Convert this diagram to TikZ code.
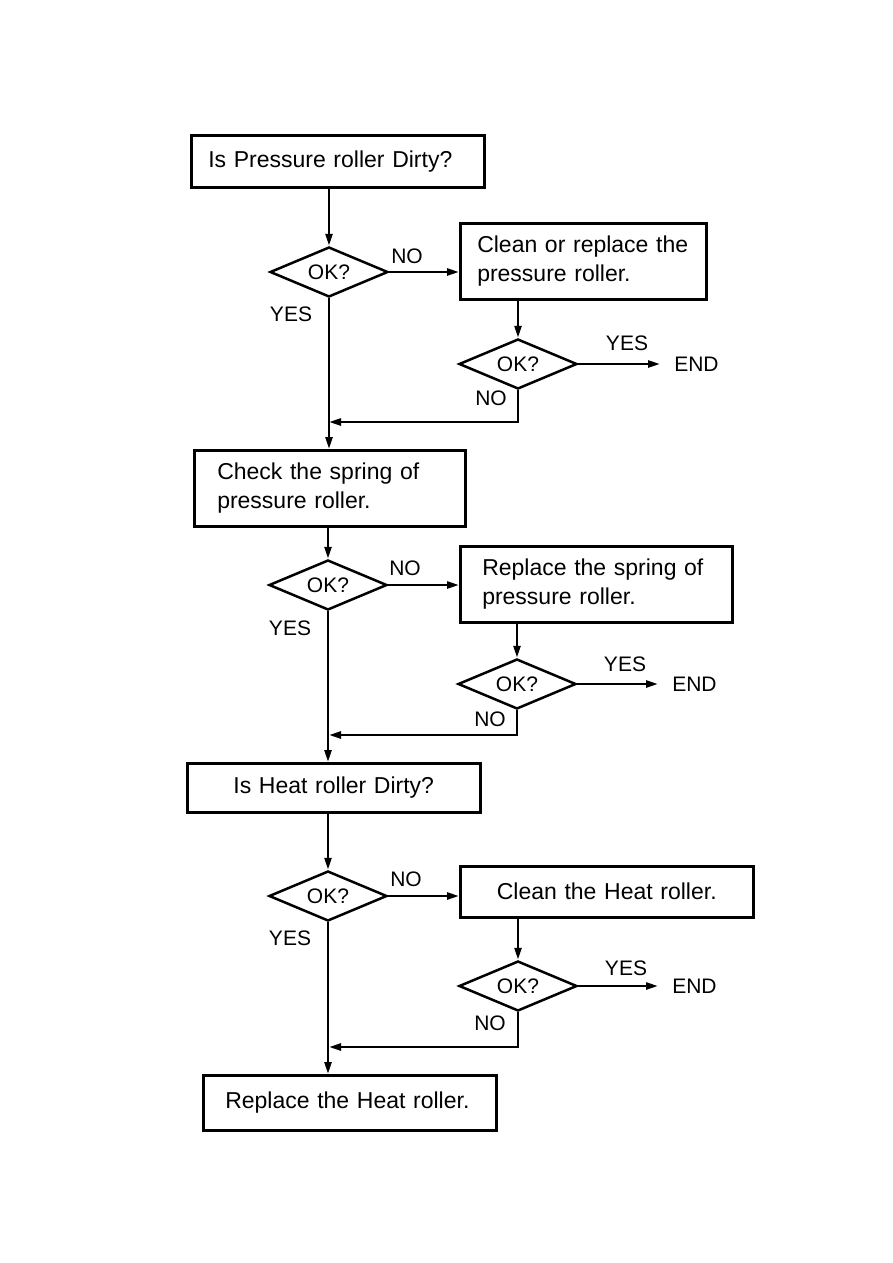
\documentclass[tikz,border=0pt]{standalone}
\usepackage{fontspec}
\setmainfont{Liberation Sans}
\usetikzlibrary{shapes.geometric,arrows.meta,positioning}

\begin{document}
\begin{tikzpicture}[x=1pt,y=-1pt,line width=2.5pt,
  box/.style={draw,rectangle,anchor=north west,inner xsep=22pt,inner ysep=4pt,align=left,font=\fontsize{23}{29}\selectfont},
  ok/.style={draw,diamond,minimum width=118pt,minimum height=50pt,inner sep=0pt,aspect=2.4,font=\fontsize{21}{24}\selectfont},
  lbl/.style={inner sep=0pt,font=\fontsize{21}{24}\selectfont},
  endn/.style={lbl,anchor=west},
  arr/.style={-{Triangle[length=12pt,width=7pt]}}]
\useasboundingbox (0,0) rectangle (893,1263);
% pressure roller
\node[box,inner xsep=17pt,text width=259pt,minimum height=52pt] (b1) at (190,134) {Is Pressure roller Dirty?};
\node[ok] (d1) at (329,272) {OK?};
\node[box,inner xsep=17pt,text width=212pt,minimum height=76pt] (b2) at (459,222) {Clean or replace the\\pressure roller.};
\node[ok] (d2) at (518,364) {OK?};
\node[endn] (e1) at (673,364) {END};
\node[lbl] (no1) at (407,256) {NO};
\node[lbl] (yes1) at (291,314) {YES};
\node[lbl] (yes2) at (627,343) {YES};
\node[lbl] (no2) at (491,398) {NO};
\coordinate (j1) at (329,422);
% spring
\node[box,inner xsep=23pt,text width=225pt,minimum height=76pt] (b3) at (193,449) {Check the spring of\\pressure roller.};
\node[ok] (d3) at (328,585) {OK?};
\node[box,inner xsep=22pt,text width=228pt,minimum height=76pt] (b4) at (459,545) {Replace the spring of\\pressure roller.};
\node[ok] (d4) at (517,684) {OK?};
\node[endn] (e2) at (671,684) {END};
\node[lbl] (no3) at (405,568) {NO};
\node[lbl] (yes3) at (290,628) {YES};
\node[lbl] (yes4) at (625,664) {YES};
\node[lbl] (no4) at (490,719) {NO};
\coordinate (j2) at (329,735);
% heat roller
\node[box,align=center,text width=249pt,minimum height=49pt] (b5) at (186,762) {Is Heat roller Dirty?};
\node[ok] (d5) at (328,896) {OK?};
\node[box,align=center,text width=249pt,minimum height=51pt] (b6) at (459,865) {Clean the Heat roller.};
\node[ok] (d6) at (518,986) {OK?};
\node[endn] (e3) at (671,986) {END};
\node[lbl] (no5) at (406,879) {NO};
\node[lbl] (yes5) at (290,938) {YES};
\node[lbl] (yes6) at (626,968) {YES};
\node[lbl] (no6) at (490,1023) {NO};
\coordinate (j3) at (329,1047);
\node[box,inner xsep=22pt,text width=249pt,minimum height=55pt] (b7) at (202,1074) {Replace the Heat roller.};
% connectors
\draw[arr] (d1 |- b1.south)--(d1.north);
\draw[arr] (d1.east)--(d1.east -| b2.west);
\draw[arr] (d2 |- b2.south)--(d2.north);
\draw[arr] (d2.east)--([xshift=-13pt]e1.west);
\draw[arr] (d2.south) |- (j1);
\draw[arr] (d1.south)--(d1.south |- b3.north);
\draw[arr] (d3 |- b3.south)--(d3.north);
\draw[arr] (d3.east)--(d3.east -| b4.west);
\draw[arr] (d4 |- b4.south)--(d4.north);
\draw[arr] (d4.east)--([xshift=-13pt]e2.west);
\draw[arr] (d4.south) |- (j2);
\draw[arr] (d3.south)--(d3.south |- b5.north);
\draw[arr] (d5 |- b5.south)--(d5.north);
\draw[arr] (d5.east)--(d5.east -| b6.west);
\draw[arr] (d6 |- b6.south)--(d6.north);
\draw[arr] (d6.east)--([xshift=-13pt]e3.west);
\draw[arr] (d6.south) |- (j3);
\draw[arr] (d5.south)--(d5.south |- b7.north);
\end{tikzpicture}
\end{document}
